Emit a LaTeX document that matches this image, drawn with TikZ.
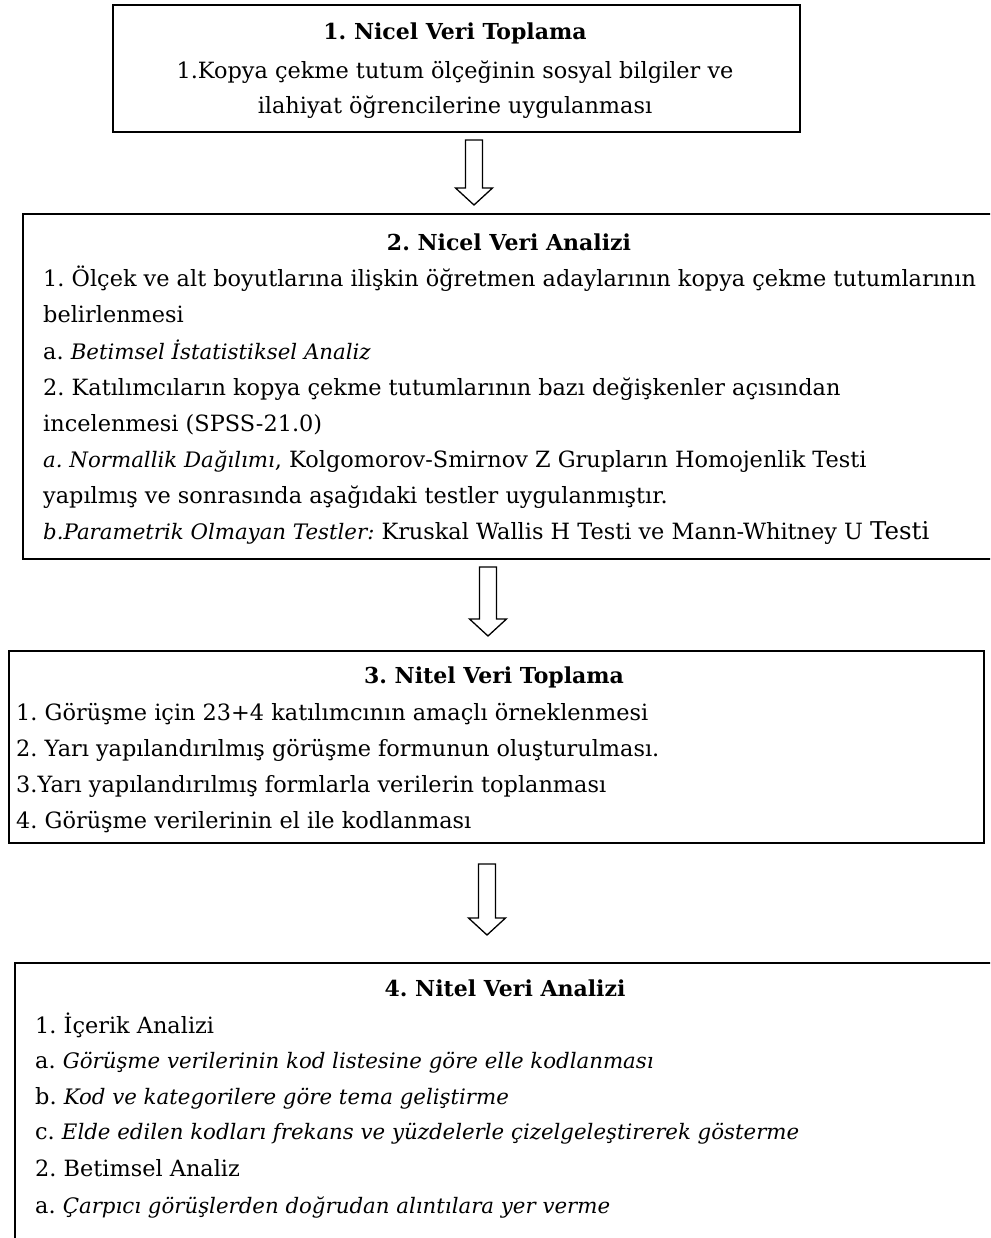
\documentclass[tikz,border=0pt]{standalone}
\usepackage{fontspec}
\setmainfont{DejaVu Serif}
\usetikzlibrary{calc}
\newcommand\fs{\frenchspacing\fontsize{22.4}{36}\selectfont}
\newcommand\fst{\frenchspacing\fontsize{22}{36}\selectfont\bfseries}
\newcommand\itx[1]{{\fontsize{21.3}{36}\selectfont\itshape #1}}
\newcommand\hollowarrow[2]{%
  \draw[hollow] let \p1=(#1), \p2=(#2) in
    (\x1-8.5pt,\y1) -- (\x1+8.5pt,\y1) -- (\x1+8.5pt,\y2+17pt) -- (\x1+18.5pt,\y2+17pt)
    -- (\x2,\y2) -- (\x1-18.5pt,\y2+17pt) -- (\x1-8.5pt,\y2+17pt) -- cycle;}
\begin{document}
\begin{tikzpicture}[x=1pt,y=-1pt,
  boxst/.style={draw, line width=2pt, inner sep=0pt, anchor=north west},
  ln/.style={anchor=base west, inner sep=0pt, font=\fs},
  ctr/.style={anchor=base, inner sep=0pt, font=\fs},
  ttl/.style={anchor=base, inner sep=0pt, font=\fst},
  hollow/.style={draw, line width=1.3pt, fill=white, line join=miter}]
\useasboundingbox[fill=white] (0,0) rectangle (990,1238);
\clip (0,0) rectangle (990,1238);

% boxes
\node[boxst, minimum width=687pt, minimum height=127pt] (b1) at (112,4) {};
\node[boxst, minimum width=975pt, minimum height=345pt] (b2) at (22,213) {};
\node[boxst, minimum width=975pt, minimum height=192pt] (b3) at (8,650) {};
\node[boxst, minimum width=982pt, minimum height=300pt] (b4) at (14,962) {};

% box 1
\node[ttl] (t10) at (455,40) {1. Nicel Veri Toplama};
\node[ctr] (t11) at (455,79) {1.Kopya çekme tutum ölçeğinin sosyal bilgiler ve};
\node[ctr] (t12) at (455,114) {ilahiyat öğrencilerine uygulanması};

% box 2
\node[ttl] (t20) at (509,251) {2. Nicel Veri Analizi};
\node[ln] (t21) at (43,287) {1. Ölçek ve alt boyutlarına ilişkin öğretmen adaylarının kopya çekme tutumlarının};
\node[ln] (t22) at (43,323) {belirlenmesi};
\node[ln] (t23) at (43,359) {a. \itx{Betimsel İstatistiksel Analiz}};
\node[ln] (t24) at (43,395) {2. Katılımcıların kopya çekme tutumlarının bazı değişkenler açısından};
\node[ln] (t25) at (43,431) {incelenmesi (SPSS-21.0)};
\node[ln] (t26) at (43,467) {\itx{a. Normallik Dağılımı}, Kolgomorov-Smirnov Z Grupların Homojenlik Testi};
\node[ln] (t27) at (43,503) {yapılmış ve sonrasında aşağıdaki testler uygulanmıştır.};
\node[ln] (t28) at (43,539) {\itx{b.Parametrik Olmayan Testler:} Kruskal Wallis H Testi ve Mann-Whitney U {\fontsize{24.5}{36}\selectfont Testi}};

% box 3
\node[ttl] (t30) at (494,683) {3. Nitel Veri Toplama};
\node[ln] (t31) at (16,720) {1. Görüşme için 23+4 katılımcının amaçlı örneklenmesi};
\node[ln] (t32) at (16,756) {2. Yarı yapılandırılmış görüşme formunun oluşturulması.};
\node[ln] (t33) at (16,792) {3.Yarı yapılandırılmış formlarla verilerin toplanması};
\node[ln] (t34) at (16,828) {4. Görüşme verilerinin el ile kodlanması};

% box 4
\node[ttl] (t40) at (505,996) {4. Nitel Veri Analizi};
\node[ln] (t41) at (35,1033) {1. İçerik Analizi};
\node[ln] (t42) at (35,1068) {a. \itx{Görüşme verilerinin kod listesine göre elle kodlanması}};
\node[ln] (t43) at (35,1104) {b. \itx{Kod ve kategorilere göre tema geliştirme}};
\node[ln] (t44) at (35,1139) {c. \itx{Elde edilen kodları frekans ve yüzdelerle çizelgeleştirerek gösterme}};
\node[ln] (t45) at (35,1176) {2. Betimsel Analiz};
\node[ln] (t46) at (35,1213) {a. \itx{Çarpıcı görüşlerden doğrudan alıntılara yer verme}};

% arrows
\coordinate (a1s) at (474,140);
\coordinate (a1e) at (474,205);
\coordinate (a2s) at (488,567);
\coordinate (a2e) at (488,636);
\coordinate (a3s) at (487,864);
\coordinate (a3e) at (487,935);
\hollowarrow{a1s}{a1e}
\hollowarrow{a2s}{a2e}
\hollowarrow{a3s}{a3e}
\end{tikzpicture}
\end{document}
